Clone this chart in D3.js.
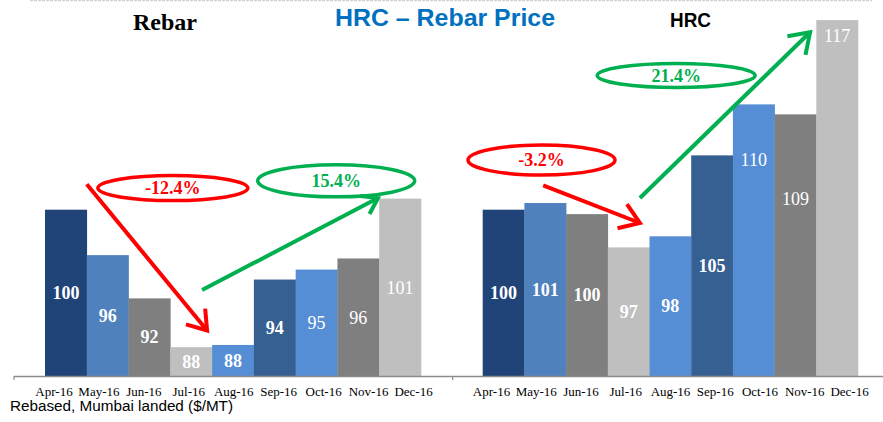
<!DOCTYPE html>
<html><head><meta charset="utf-8">
<script src="https://cdn.jsdelivr.net/npm/d3@7"></script>
<style>html,body{margin:0;padding:0;background:#fff}svg{display:block}</style>
</head><body><svg id="c" width="883" height="422"></svg>
<script>
// ---- data ----
const months = ["Apr-16","May-16","Jun-16","Jul-16","Aug-16","Sep-16","Oct-16","Nov-16","Dec-16"];
const rebarValues = [100, 95.9, 92.0, 87.6, 87.8, 93.7, 94.6, 95.6, 101.0];
const hrcValues   = [100, 100.6, 99.6, 96.6, 97.6, 104.9, 109.5, 108.6, 117.1];
const barColors = ["#214478","#4F81BD","#7F7F7F","#BFBFBF","#558ED5","#376092","#558ED5","#7F7F7F","#BFBFBF"];
const rebarBold = [true,true,true,true,true,true,false,false,false];
const hrcBold   = [true,true,true,true,true,true,false,false,false];
// label anchor values (data units) where the label is not centred in the bar
const hrcLabelAt = [null,null,null,null,null,null,104.5,101.0,115.7];
const changes = {rebar:["-12.4%","15.4%"], hrc:["-3.2%","21.4%"]};

const svg = d3.select("#c");
const baseY = 376;
const y = d3.scaleLinear().domain([85, 117.2]).range([baseY, 19]);

const panels = [
  {key:"rebar", values:rebarValues, bold:rebarBold, labelAt:null, bars:[45,421], labels:[53.5,413],
   downArrow:{from:[1.0,102.3], to:[3.88,89.1]}, upArrow:{from:[3.76,92.75], to:[7.97,101.05]},
   downEll:{c:[3.06,101.95], rx:75, ry:12.5}, upEll:{c:[6.97,102.6], rx:78.5, ry:16},
   head:[22,18]},
  {key:"hrc", values:hrcValues, bold:hrcBold, labelAt:hrcLabelAt, bars:[482.7,858], labels:[491,849],
   downArrow:{from:[1.45,102.2], to:[3.77,98.8]}, upArrow:{from:[3.77,101.05], to:[7.85,116.0]},
   downEll:{c:[1.41,104.48], rx:73.5, ry:15}, upEll:{c:[4.64,112.1], rx:79, ry:12},
   head:[23,23]}
];

// faint top border
svg.append("line").attr("x1",30).attr("x2",872).attr("y1",0.5).attr("y2",0.5)
  .attr("stroke","#d0d0d0").attr("stroke-width",1.5).attr("stroke-dasharray","3,1");

panels.forEach(p => {
  const x = d3.scaleBand().domain(months).range(p.bars).padding(0);
  const xi = d3.scaleLinear().domain([0, months.length]).range(p.bars);
  const xl = d3.scalePoint().domain(months).range(p.labels);
  const g = svg.append("g");
  g.selectAll("rect").data(p.values).join("rect")
    .attr("x",(d,i)=>x(months[i])).attr("width",x.bandwidth()+0.3)
    .attr("y",d=>y(d)).attr("height",d=>baseY-y(d))
    .attr("fill",(d,i)=>barColors[i]);
  g.selectAll("text.v").data(p.values).join("text").attr("class","v")
    .attr("x",(d,i)=>x(months[i])+x.bandwidth()/2)
    .attr("y",(d,i)=>{const a = p.labelAt && p.labelAt[i]!=null ? y(p.labelAt[i]) : (y(d)+baseY)/2; return a;})
    .attr("dy","0.35em").attr("text-anchor","middle")
    .attr("font-family","'Liberation Serif','Times New Roman',serif").attr("font-size",18)
    .attr("font-weight",(d,i)=>p.bold[i]?"bold":"normal").attr("fill","#fff")
    .text(d=>Math.round(d));
  // x labels
  const ax = g.append("g").attr("transform",`translate(0,${baseY})`)
    .call(d3.axisBottom(xl).tickSize(0).tickPadding(11));
  ax.select(".domain").remove();
  ax.selectAll("text").attr("font-family","'Liberation Serif','Times New Roman',serif")
    .attr("font-size",13).attr("fill","#000");

  const P = pt => [xi(pt[0]), y(pt[1])];
  function arrow(a, color, len){
    const [x1,y1]=P(a.from),[x2,y2]=P(a.to);
    const ang=Math.atan2(y2-y1,x2-x1);
    g.append("line").attr("x1",x1).attr("y1",y1).attr("x2",x2).attr("y2",y2)
      .attr("stroke",color).attr("stroke-width",4);
    const pts=[ang+Math.PI-0.6, ang+Math.PI+0.6].map(t=>[x2+len*Math.cos(t), y2+len*Math.sin(t)]);
    g.append("path").attr("d",`M${pts[0]}L${x2},${y2}L${pts[1]}`)
      .attr("fill","none").attr("stroke",color).attr("stroke-width",4).attr("stroke-linejoin","miter");
  }
  function ell(e, color, txt){
    const [cx,cy]=P(e.c);
    g.append("ellipse").attr("cx",cx).attr("cy",cy).attr("rx",e.rx).attr("ry",e.ry)
      .attr("fill","none").attr("stroke",color).attr("stroke-width",3.5);
    g.append("text").attr("x",cx).attr("y",cy).attr("dy","0.35em").attr("text-anchor","middle")
      .attr("font-family","'Liberation Serif','Times New Roman',serif").attr("font-size",18)
      .attr("font-weight","bold").attr("fill",color).text(txt);
  }
  arrow(p.downArrow,"#FF0000",p.head[0]);
  arrow(p.upArrow,"#00B050",p.head[1]);
  ell(p.downEll,"#FF0000",changes[p.key][0]);
  ell(p.upEll,"#00B050",changes[p.key][1]);
});

// axis line
svg.append("line").attr("x1",14).attr("x2",883).attr("y1",baseY+0.5).attr("y2",baseY+0.5)
  .attr("stroke","#8c8c8c").attr("stroke-width",1.5);
[14,452.7].forEach(t=>svg.append("line").attr("x1",t).attr("x2",t).attr("y1",baseY).attr("y2",baseY+4)
  .attr("stroke","#8c8c8c").attr("stroke-width",1.2));

// titles
svg.append("text").attr("x",165).attr("y",30).attr("text-anchor","middle")
  .attr("font-family","'Liberation Serif','Times New Roman',serif").attr("font-size",24).attr("font-weight","bold")
  .attr("fill","#000").text("Rebar");
svg.append("text").attr("x",335).attr("y",26)
  .attr("font-family","'Liberation Sans','Arial',sans-serif").attr("font-size",24).attr("font-weight","bold")
  .attr("fill","#0070C0").attr("textLength",220).attr("lengthAdjust","spacingAndGlyphs").text("HRC – Rebar Price");
svg.append("text").attr("x",670).attr("y",27)
  .attr("font-family","'Liberation Sans','Arial',sans-serif").attr("font-size",20).attr("font-weight","bold")
  .attr("fill","#000").attr("textLength",41).attr("lengthAdjust","spacingAndGlyphs").text("HRC");
svg.append("text").attr("x",10).attr("y",411)
  .attr("font-family","'Liberation Sans','Arial',sans-serif").attr("font-size",14)
  .attr("fill","#000").attr("textLength",223).attr("lengthAdjust","spacingAndGlyphs").text("Rebased, Mumbai landed ($/MT)");
</script></body></html>
